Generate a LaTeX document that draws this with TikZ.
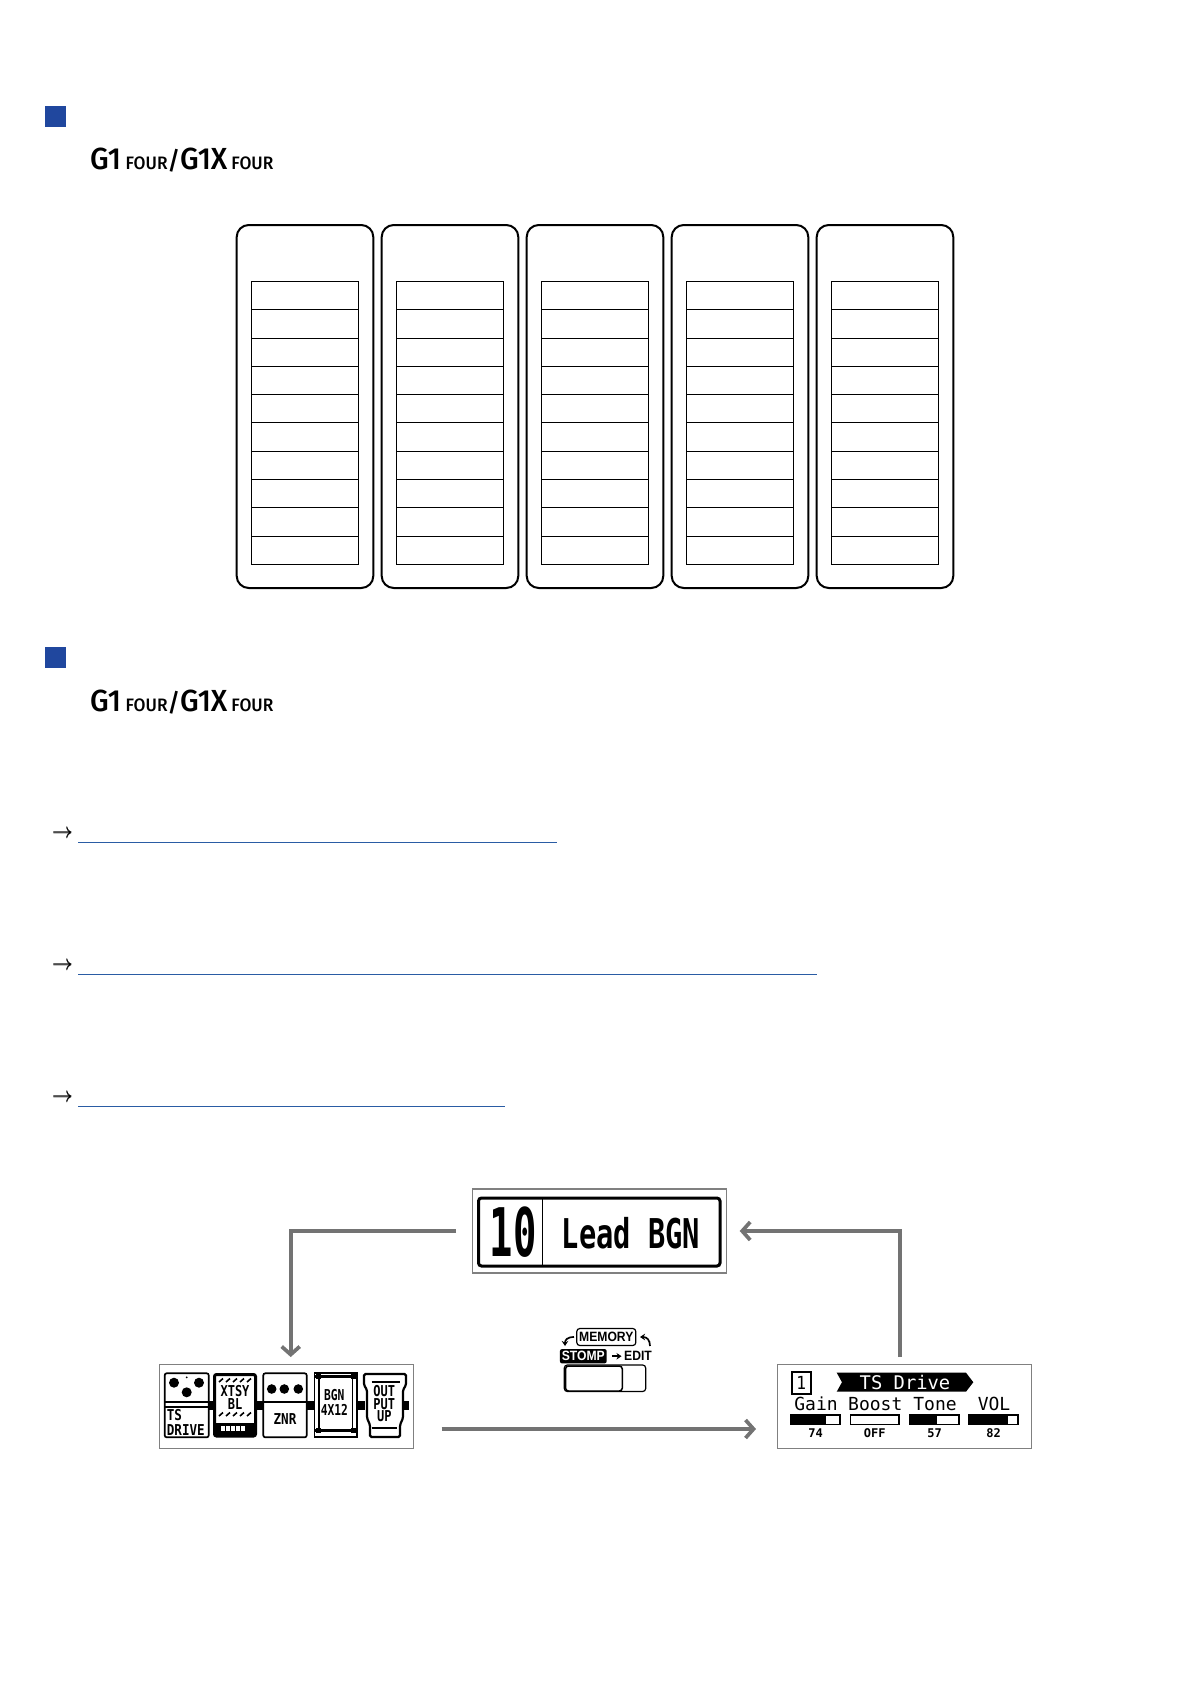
\documentclass[tikz,border=0pt]{standalone}
\usepackage{graphicx}
\usepackage{fontspec}
\usetikzlibrary{arrows.meta}
\setmainfont{Liberation Sans}
\newfontfamily\headfont[FakeStretch=0.96]{Fira Sans Medium}
\newfontfamily\lcdfont{DejaVu Sans Mono}
\definecolor{zblue}{HTML}{20479E}
\definecolor{zlink}{HTML}{2A5CA4}
\definecolor{zgray}{HTML}{737373}
\definecolor{zbox}{HTML}{808080}
\newcommand{\lcdtxt}[3]{{\fontsize{#1}{#1}\selectfont\lcdfont\scalebox{#2}[1]{#3}}}
\newcommand{\lcdbf}[3]{{\fontsize{#1}{#1}\selectfont\lcdfont\bfseries\scalebox{#2}[1]{#3}}}
\newcommand{\iconbf}[3]{{\fontsize{#1}{#1}\selectfont\bfseries\scalebox{#2}[1]{#3}}}
\newcommand{\linkmark}{\rlap{$\rightarrow$}\raisebox{0.4pt}{$\rightarrow$}}
\tikzset{
  bluebox/.style={fill=zblue,minimum size=21pt,inner sep=0pt},
  modelname/.style={anchor=base west,inner sep=0pt,font=\headfont},
  cardbox/.style={draw,line width=2pt,rounded corners=12pt,minimum width=136.6pt,minimum height=363pt,inner sep=0pt},
  rowbox/.style={draw,line width=1pt,minimum width=107pt,minimum height=28.27pt,inner sep=0pt},
  linkarrow/.style={inner sep=0pt,font=\fontsize{22}{22}\selectfont},
  linkline/.style={draw=zlink,line width=1.2pt},
  lcdbox/.style={draw=zbox,line width=1.4pt,minimum width=254pt,minimum height=84pt,inner sep=0pt},
  flowarrow/.style={draw=zgray,line width=3.7pt,-{Straight Barb[length=8pt,width=18pt,line width=3.7pt]}},
  lcdlabel/.style={inner sep=0pt,anchor=base},
  smallarrow/.style={line width=1.7pt,-{Stealth[length=5pt,width=6.5pt]}},
}
\begin{document}
\begin{tikzpicture}[x=1pt,y=-1pt]
  \useasboundingbox (0,0) rectangle (1191,1684);
  % headings
  \foreach \hname/\hy/\hb in {one/116.5/169,two/657/711}{
    \node[bluebox] (square\hname) at (55.5,\hy) {};
    \node[modelname] (model\hname) at (90,\hb) {\fontsize{30.5}{30.5}\selectfont G1\hspace{4.5pt}{\fontsize{18}{18}\selectfont FOUR}{\fontsize{25}{25}\selectfont/}G1X\hspace{4pt}{\fontsize{18}{18}\selectfont FOUR}};
  }
  % five columns of ten rows
  \foreach \c in {0,...,4}{
    \node[cardbox] (card\c) at (305+145*\c,406.5) {};
    \foreach \r in {0,...,9}{
      \node[rowbox] (row\c\r) at (305.2+145*\c,295.7+28.27*\r) {};
    }
  }
  % links
  \foreach \lname/\ly/\lx in {a/842.3/556.5,b/974.2/817,c/1106.3/505}{
    \node[linkarrow] (go\lname) at (62.5,\ly-8) {\linkmark};
    \draw[linkline] (78.3,\ly) -- (\lx,\ly);
  }
  % bank display
  \node[lcdbox] (bankbox) at (599.3,1231) {};
  \draw[line width=3pt,rounded corners=3pt] (478.5,1198) rectangle (720,1266);
  \draw[line width=1pt] (542.3,1198) -- (542.3,1266);
  \node[lcdlabel] (banknum) at (513,1256) {\lcdbf{67}{0.58}{10}};
  \node[lcdlabel] (bankname) at (631,1248) {\lcdbf{41}{0.7}{Lead BGN}};
  % stomp display
  \node[lcdbox] (stompbox) at (286.3,1406.3) {};
  \foreach \bx/\bw in {208/7,256/8,306/8,357/8,404/5}{
    \fill (\bx,1401) rectangle ++(\bw,9);
  }
  \fill[white,draw=black,rounded corners=2pt,line width=1.7pt] (164.7,1373.3) rectangle (208.7,1437.3);
  \foreach \kx/\ky/\kr in {174/1382.7/5,199/1382.7/5,186.7/1392.3/5,186.7/1377.3/1}{
    \fill (\kx,\ky) circle[radius=\kr];
  }
  \draw[line width=1.7pt] (165,1402.3) -- (208,1402.3) (165,1406.7) -- (208,1406.7);
  \node[lcdlabel,anchor=base west] (driveA) at (166.7,1420.7) {\lcdbf{15}{0.84}{TS}};
  \node[lcdlabel,anchor=base west] (driveB) at (166.7,1435) {\lcdbf{15}{0.84}{DRIVE}};
  % second pedal
  \fill[white,draw=black,rounded corners=2pt,line width=3pt] (214.5,1374.5) rectangle (255.5,1436);
  \foreach \hx in {219,226,233,240,247}{
    \draw[line width=1.6pt] (\hx,1382) -- ++(4,-3.5);
    \draw[line width=1.6pt] (\hx,1416) -- ++(4,-3.5);
  }
  \fill (215,1423) rectangle (255,1436);
  \foreach \wx in {221,226,231,236,241}{
    \fill[white] (\wx,1425.5) rectangle ++(3.6,5);
  }
  \node[lcdlabel] (xtsyA) at (235,1396) {\lcdbf{15}{0.8}{XTSY}};
  \node[lcdlabel] (xtsyB) at (235,1409.5) {\lcdbf{15}{0.8}{BL}};
  % third pedal
  \fill[white,draw=black,rounded corners=2pt,line width=1.7pt] (263.3,1373.3) rectangle (306.7,1437.3);
  \foreach \kx in {271.7,284.3,298.3}{
    \fill (\kx,1389) circle[radius=4.8];
  }
  \draw[line width=2pt] (264,1401.7) -- (306,1401.7);
  \node[lcdlabel] (znr) at (285,1424.3) {\lcdbf{15}{0.84}{ZNR}};
  % cabinet
  \fill[white,draw=black,line width=1.7pt] (314.5,1373.3) rectangle (357,1437.3);
  \draw[line width=3pt] (314,1376.7) -- (357.5,1376.7) (314,1430) -- (357.5,1430);
  \draw[line width=1.4pt] (319,1376) -- (319,1431) (352.5,1376) -- (352.5,1431);
  \foreach \cx in {316,350.5}{
    \fill (\cx,1374) rectangle ++(5,5);
    \fill (\cx,1428) rectangle ++(5,5);
  }
  \node[lcdlabel] (cabA) at (334.3,1400.7) {\lcdbf{15}{0.75}{BGN}};
  \node[lcdlabel] (cabB) at (334.3,1415) {\lcdbf{15}{0.75}{4X12}};
  % output pedal
  \fill[white,draw=black,line width=2.2pt,rounded corners=1.5pt] (364,1374) -- (406,1374) -- (406,1385) -- (403,1390) -- (403,1418) -- (400,1425) -- (400,1437) -- (370,1437) -- (370,1425) -- (367,1418) -- (367,1390) -- (364,1385) -- cycle;
  \draw[line width=2pt] (371.7,1382) -- (400,1382) (371.7,1428) -- (397,1428);
  \node[lcdlabel] (outA) at (384.3,1396) {\lcdbf{15}{0.8}{OUT}};
  \node[lcdlabel] (outB) at (384.3,1409.3) {\lcdbf{15}{0.8}{PUT}};
  \node[lcdlabel] (outC) at (384.3,1421.7) {\lcdbf{15}{0.8}{UP}};
  % edit display
  \node[lcdbox] (editbox) at (904.5,1406.3) {};
  \node[draw,line width=1.8pt,minimum width=19pt,minimum height=22.6pt,inner sep=0pt] (editnum) at (801.2,1383) {\lcdtxt{18}{0.9}{1}};
  \fill (836.7,1372.7) -- (966,1372.7) -- (973.3,1382.2) -- (966,1391.7) -- (836.7,1391.7) -- (842,1382.2) -- cycle;
  \node[lcdlabel,white] (editname) at (905,1389.3) {\lcdtxt{18.8}{1}{TS Drive}};
  \foreach \pname/\px/\pfill/\ptxt/\pval in {gain/791/35/Gain/74,boost/850.3/0/Boost/OFF,tone/910/27/Tone/57,vol/969/38.7/VOL/82}{
    \draw[line width=1.6pt] (\px,1414.8) rectangle ++(48.8,9.6);
    \fill (\px,1414) rectangle ++(\pfill,11);
    \node[lcdlabel] (label\pname) at (\px+25,1410.7) {\lcdtxt{18}{1}{\ptxt}};
    \node[lcdlabel] (value\pname) at (\px+24.5,1437.3) {\lcdbf{12}{1}{\pval}};
  }
  % memory switch icon
  \node[draw,line width=1.2pt,rounded corners=3pt,minimum width=59pt,minimum height=17pt,inner sep=0pt] (memlabel) at (606.3,1337) {\iconbf{13.5}{0.9}{MEMORY}};
  \node[fill=black,text=white,rounded corners=2pt,minimum width=46.7pt,minimum height=14.3pt,inner sep=0pt] (stomplabel) at (583.3,1356.2) {\iconbf{13.5}{0.9}{STOMP}};
  \node[inner sep=0pt,anchor=west] (editlabel) at (624,1356.2) {\iconbf{13.5}{0.9}{EDIT}};
  \draw[smallarrow] (stomplabel.east)++(5,0) -- (621.5,1356.2);
  \draw[smallarrow] (574,1337) .. controls (567,1337) and (565,1340) .. (565,1346);
  \draw[smallarrow] (650,1346) .. controls (650,1340) and (647,1337) .. (640,1337);
  \draw[line width=1.2pt,rounded corners=3pt] (564.3,1365) rectangle (645.7,1391.5);
  \draw[line width=1.5pt,rounded corners=3pt] (565.5,1366) rectangle (622.3,1391);
  % flow between displays
  \draw[flowarrow] ([xshift=-15.6pt]bankbox.west) -| ([shift={(4.4pt,6.6pt)}]stompbox.north);
  \draw[flowarrow] ([xshift=27.7pt,yshift=-22.7pt]stompbox.east) -- ([xshift=-20.8pt,yshift=-22.7pt]editbox.west);
  \draw[flowarrow] ([shift={(-4.5pt,6.6pt)}]editbox.north) |- ([xshift=12.7pt]bankbox.east);
\end{tikzpicture}
\end{document}
